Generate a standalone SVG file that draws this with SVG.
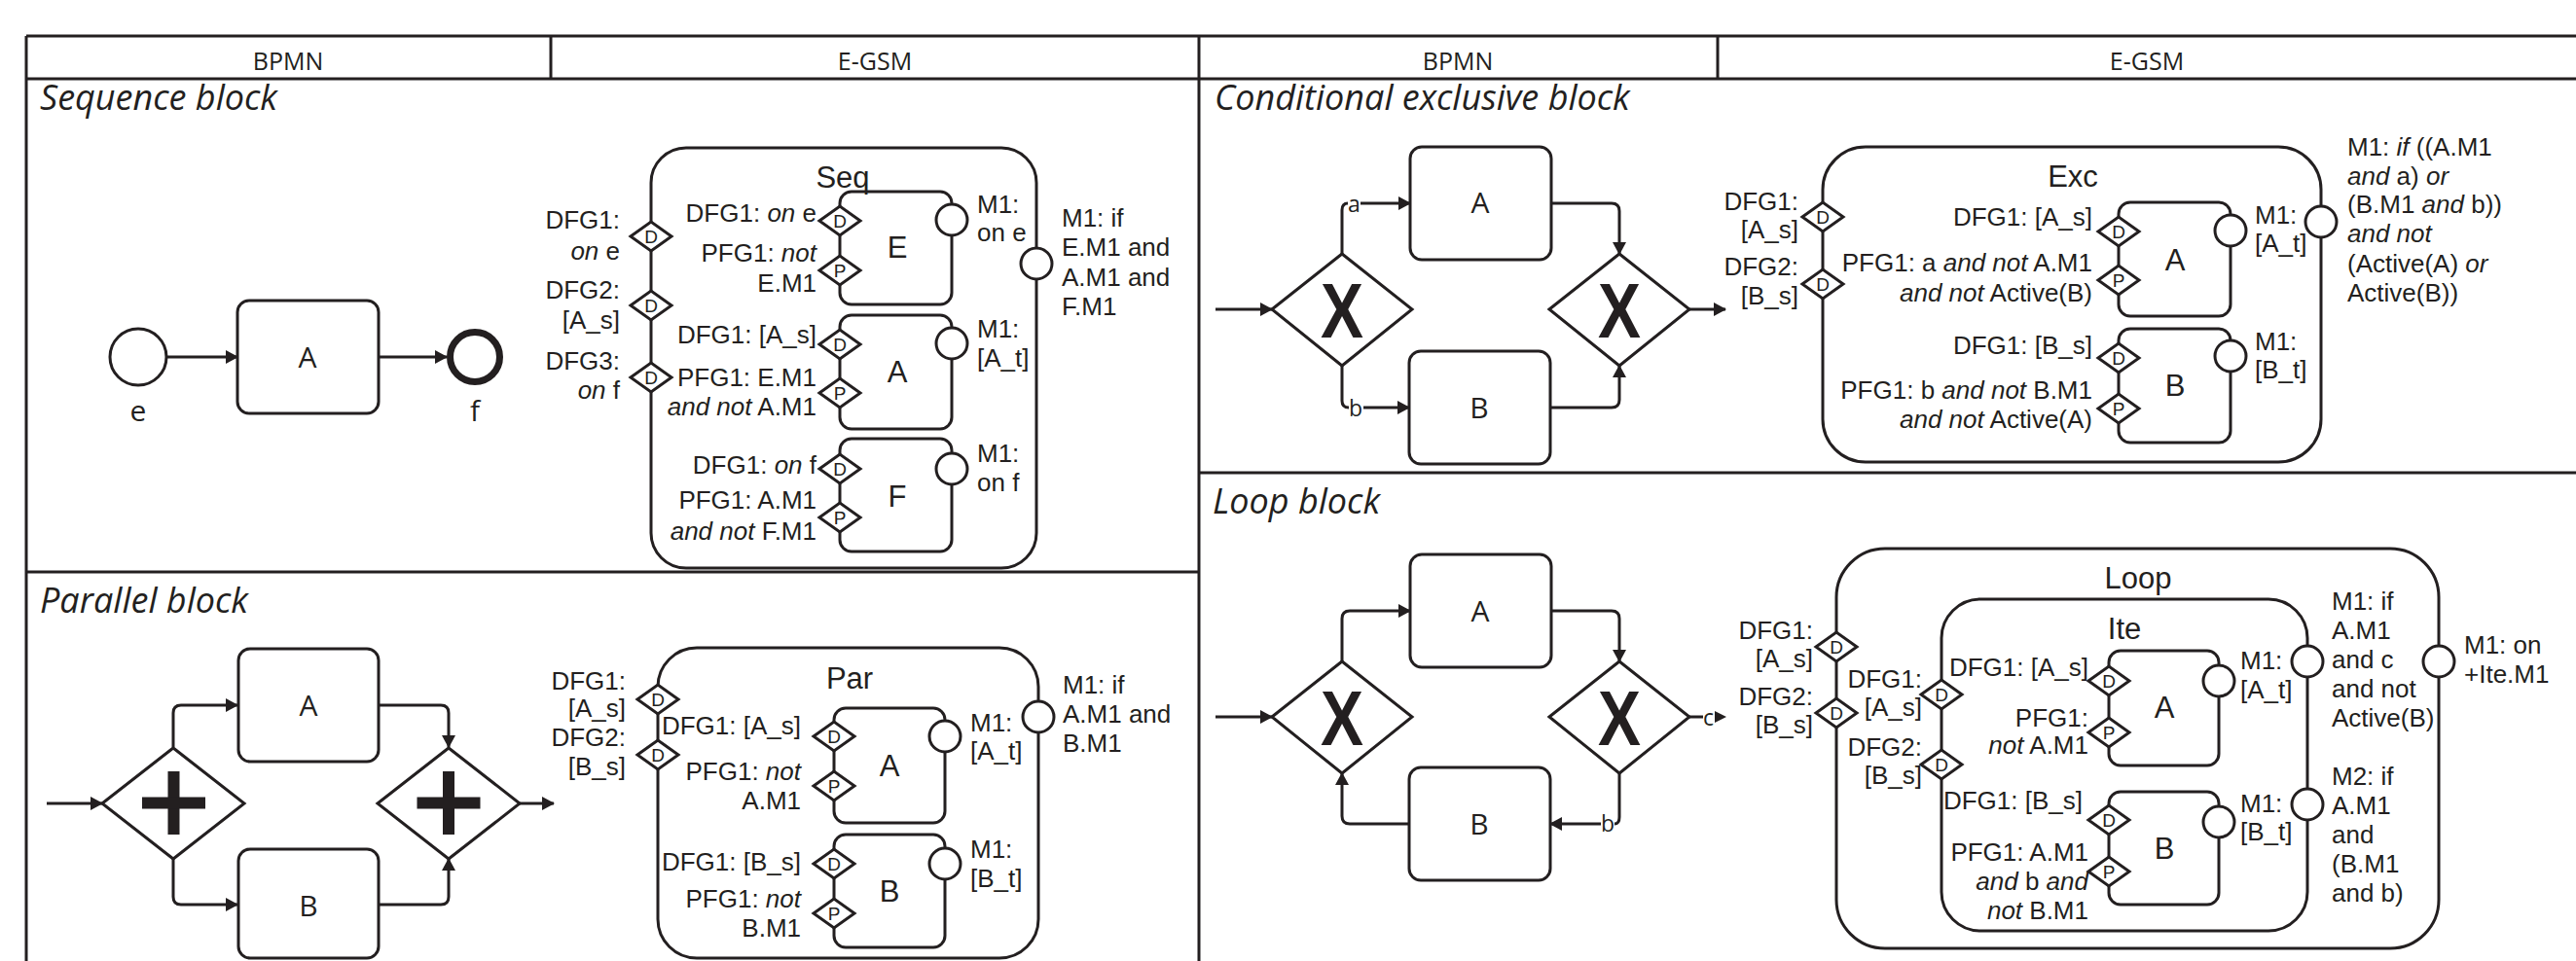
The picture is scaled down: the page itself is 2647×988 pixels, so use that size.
<svg xmlns="http://www.w3.org/2000/svg" xmlns:xlink="http://www.w3.org/1999/xlink" width="2647" height="988" viewBox="0 0 2647 988">
<style>
.k{stroke:#231f20;stroke-width:3;fill:none}
.w{stroke:#231f20;stroke-width:3;fill:#fff}
.g{stroke:#231f20;stroke-width:3;fill:none}
text{fill:#231f20}
.l{font-family:"Liberation Sans",Arial,sans-serif;font-size:26px}
.e{text-anchor:end}
.i{font-style:italic}
.big{font-family:"Liberation Sans",Arial,sans-serif;font-size:31px;text-anchor:middle}
.bp{font-family:"Open Sans",sans-serif;font-size:30px;text-anchor:middle}
.lb{font-family:"Open Sans",sans-serif;font-size:23px}
.hd{font-family:"Open Sans",sans-serif;font-size:25px;text-anchor:middle}
.tt{font-family:"Open Sans",sans-serif;font-size:36px;font-style:italic}
.x{font-family:"Liberation Sans",Arial,sans-serif;font-weight:bold;font-size:80px}
.dp{font-family:"Liberation Sans",Arial,sans-serif;font-size:19px;text-anchor:middle}
.cn{stroke:#231f20;stroke-width:3;fill:none;marker-end:url(#ah)}
.pl{fill:#231f20}
</style>
<defs>
<marker id="ah" viewBox="0 0 13 14" refX="12" refY="7" markerWidth="13" markerHeight="14" markerUnits="userSpaceOnUse" orient="auto"><path d="M0,0 L13,7 L0,14 z" fill="#231f20"/></marker>
<g id="dD"><polygon points="-21,0 0,-15 21,0 0,15" fill="#fff" stroke="#231f20" stroke-width="3"/><text class="dp" y="7">D</text></g>
<g id="dP"><polygon points="-21,0 0,-15 21,0 0,15" fill="#fff" stroke="#231f20" stroke-width="3"/><text class="dp" y="7">P</text></g>
<circle id="mc" r="16" fill="#fff" stroke="#231f20" stroke-width="3"/>
</defs>
<rect width="2647" height="988" fill="#fff"/>

<g id="table">
<path class="k" d="M27,37 H2647 M27,81 H2647 M27,37 V988 M1232,37 V988 M566,37 V81 M1765,37 V81 M27,588 H1232 M1232,486 H2647"/>
<text class="hd" x="296" y="72">BPMN</text>
<text class="hd" x="899" y="72">E-GSM</text>
<text class="hd" x="1498" y="72">BPMN</text>
<text class="hd" x="2206" y="72">E-GSM</text>
<text class="tt" x="41" y="113">Sequence block</text>
<text class="tt" x="41" y="630">Parallel block</text>
<text class="tt" x="1248" y="113">Conditional exclusive block</text>
<text class="tt" x="1246" y="528">Loop block</text>
</g>

<g id="connectors">
<path class="cn" d="M171,367 H244"/>
<path class="cn" d="M389,367 H459"/>
<path class="cn" d="M48,826 H105"/>
<path class="cn" d="M178,768 V733 Q178,725 186,725 H244"/>
<path class="cn" d="M178,883 V922 Q178,930 186,930 H244"/>
<path class="cn" d="M389,725 H453 Q461,725 461,733 V768"/>
<path class="cn" d="M389,930 H453 Q461,930 461,922 V883"/>
<path class="cn" d="M534,826 H569"/>
<path class="cn" d="M1249,318 H1307"/>
<path class="k" d="M1379,261 V216 Q1379,209 1385,209"/>
<text class="lb" x="1385" y="218">a</text>
<path class="cn" d="M1398,209 H1449"/>
<path class="k" d="M1379,376 V412 Q1379,419 1386,419"/>
<text class="lb" x="1386" y="428">b</text>
<path class="cn" d="M1401,419 H1448"/>
<path class="cn" d="M1594,209 H1656 Q1664,209 1664,217 V261"/>
<path class="cn" d="M1593,419 H1656 Q1664,419 1664,411 V376"/>
<path class="cn" d="M1736,318 H1773"/>
<path class="cn" d="M1249,737 H1307"/>
<path class="cn" d="M1379,680 V636 Q1379,628 1387,628 H1449"/>
<path class="cn" d="M1594,628 H1656 Q1664,628 1664,636 V680"/>
<path class="k" d="M1736,737 H1750"/>
<text class="lb" x="1750" y="746">c</text>
<polygon class="pl" points="1762,731 1774,737 1762,743"/>
<path class="k" d="M1664,795 V840 Q1664,847 1659,847"/>
<text class="lb" x="1645" y="855">b</text>
<path class="cn" d="M1645,847 H1593"/>
<path class="cn" d="M1448,847 H1387 Q1379,847 1379,839 V795"/>
</g>

<g id="seq-start"><circle class="w" cx="142" cy="367" r="29"/><text class="bp" x="142" y="433">e</text></g>
<g id="seq-A"><rect class="w" x="244" y="309" width="145" height="116" rx="12"/><text class="bp" x="316" y="378">A</text></g>
<g id="seq-end"><circle cx="488" cy="367" r="25.5" fill="#fff" stroke="#231f20" stroke-width="7"/><text class="bp" x="488" y="433">f</text></g>

<g id="par-split"><polygon class="w" points="105,826 178,769 251,826 178,883"/><rect class="pl" x="172.5" y="793" width="12" height="65"/><rect class="pl" x="146" y="819.5" width="65" height="12"/></g>
<g id="par-A"><rect class="w" x="245" y="667" width="144" height="116" rx="12"/><text class="bp" x="317" y="736">A</text></g>
<g id="par-B"><rect class="w" x="245" y="873" width="144" height="112" rx="12"/><text class="bp" x="317" y="942">B</text></g>
<g id="par-join"><polygon class="w" points="388,826 461,769 534,826 461,883"/><rect class="pl" x="455" y="793" width="12" height="65"/><rect class="pl" x="428.5" y="819.5" width="65" height="12"/></g>

<g id="exc-split"><polygon class="w" points="1307,318 1379,261 1451,318 1379,376"/><text class="x" x="1357" y="347" textLength="44" lengthAdjust="spacingAndGlyphs">X</text></g>
<g id="exc-A"><rect class="w" x="1449" y="151" width="145" height="116" rx="12"/><text class="bp" x="1521" y="219">A</text></g>
<g id="exc-B"><rect class="w" x="1448" y="361" width="145" height="116" rx="12"/><text class="bp" x="1520" y="430">B</text></g>
<g id="exc-join"><polygon class="w" points="1592,318 1664,261 1736,318 1664,376"/><text class="x" x="1642" y="347" textLength="44" lengthAdjust="spacingAndGlyphs">X</text></g>

<g id="loop-split"><polygon class="w" points="1307,737 1379,680 1451,737 1379,795"/><text class="x" x="1357" y="766" textLength="44" lengthAdjust="spacingAndGlyphs">X</text></g>
<g id="loop-A"><rect class="w" x="1449" y="570" width="145" height="116" rx="12"/><text class="bp" x="1521" y="639">A</text></g>
<g id="loop-B"><rect class="w" x="1448" y="789" width="145" height="116" rx="12"/><text class="bp" x="1520" y="858">B</text></g>
<g id="loop-join"><polygon class="w" points="1592,737 1664,680 1736,737 1664,795"/><text class="x" x="1642" y="766" textLength="44" lengthAdjust="spacingAndGlyphs">X</text></g>

<g id="seq-egsm">
<rect class="w" x="669" y="152" width="396" height="432" rx="36"/>
<g id="seq-E"><rect class="g" x="863" y="197" width="115" height="116" rx="12"/><text class="big" x="922" y="265">E</text>
<use xlink:href="#dD" x="863" y="227"/><use xlink:href="#dP" x="863" y="278"/><use xlink:href="#mc" x="978" y="226"/></g>
<g id="seq-EA"><rect class="g" x="863" y="324" width="115" height="117" rx="12"/><text class="big" x="922" y="393">A</text>
<use xlink:href="#dD" x="863" y="354"/><use xlink:href="#dP" x="863" y="404"/><use xlink:href="#mc" x="978" y="353"/></g>
<g id="seq-F"><rect class="g" x="863" y="451" width="115" height="116" rx="12"/><text class="big" x="922" y="521">F</text>
<use xlink:href="#dD" x="863" y="482"/><use xlink:href="#dP" x="863" y="532"/><use xlink:href="#mc" x="978" y="482"/></g>
<text class="big" x="866" y="193">Seq</text>
<use xlink:href="#dD" x="669" y="243"/><use xlink:href="#dD" x="669" y="314"/><use xlink:href="#dD" x="669" y="388"/>
<use xlink:href="#mc" x="1065" y="271"/>
<text class="l e" x="637" y="235">DFG1:</text>
<text class="l e" x="637" y="267"><tspan class="i">on</tspan> e</text>
<text class="l e" x="637" y="307">DFG2:</text>
<text class="l e" x="637" y="338">[A_s]</text>
<text class="l e" x="637" y="380">DFG3:</text>
<text class="l e" x="637" y="410"><tspan class="i">on</tspan> f</text>
<text class="l e" x="839" y="228">DFG1: <tspan class="i">on</tspan> e</text>
<text class="l e" x="839" y="269">PFG1: <tspan class="i">not</tspan></text>
<text class="l e" x="839" y="300">E.M1</text>
<text class="l e" x="839" y="353">DFG1: [A_s]</text>
<text class="l e" x="839" y="397">PFG1: E.M1</text>
<text class="l e" x="839" y="427"><tspan class="i">and not</tspan> A.M1</text>
<text class="l e" x="839" y="487">DFG1: <tspan class="i">on</tspan> f</text>
<text class="l e" x="839" y="523">PFG1: A.M1</text>
<text class="l e" x="839" y="555"><tspan class="i">and not</tspan> F.M1</text>
<text class="l" x="1004" y="219">M1:</text>
<text class="l" x="1004" y="248">on e</text>
<text class="l" x="1004" y="347">M1:</text>
<text class="l" x="1004" y="377">[A_t]</text>
<text class="l" x="1004" y="475">M1:</text>
<text class="l" x="1004" y="505">on f</text>
<text class="l" x="1091" y="233">M1: if</text>
<text class="l" x="1091" y="263">E.M1 and</text>
<text class="l" x="1091" y="294">A.M1 and</text>
<text class="l" x="1091" y="324">F.M1</text>
</g>

<g id="par-egsm">
<rect class="w" x="676" y="666" width="391" height="319" rx="40"/>
<text class="big" x="873" y="708">Par</text>
<g id="par-eA"><rect class="g" x="857" y="728" width="114" height="118" rx="12"/><text class="big" x="914" y="798">A</text>
<use xlink:href="#dD" x="857" y="757"/><use xlink:href="#dP" x="857" y="808"/><use xlink:href="#mc" x="971" y="757"/></g>
<g id="par-eB"><rect class="g" x="857" y="858" width="114" height="116" rx="12"/><text class="big" x="914" y="927">B</text>
<use xlink:href="#dD" x="857" y="888"/><use xlink:href="#dP" x="857" y="939"/><use xlink:href="#mc" x="971" y="888"/></g>
<use xlink:href="#dD" x="676" y="719"/><use xlink:href="#dD" x="676" y="776"/>
<use xlink:href="#mc" x="1067" y="737"/>
<text class="l e" x="643" y="709">DFG1:</text>
<text class="l e" x="643" y="737">[A_s]</text>
<text class="l e" x="643" y="767">DFG2:</text>
<text class="l e" x="643" y="797">[B_s]</text>
<text class="l e" x="823" y="755">DFG1: [A_s]</text>
<text class="l e" x="823" y="802">PFG1: <tspan class="i">not</tspan></text>
<text class="l e" x="823" y="832">A.M1</text>
<text class="l e" x="823" y="895">DFG1: [B_s]</text>
<text class="l e" x="823" y="933">PFG1: <tspan class="i">not</tspan></text>
<text class="l e" x="823" y="963">B.M1</text>
<text class="l" x="997" y="752">M1:</text>
<text class="l" x="997" y="781">[A_t]</text>
<text class="l" x="997" y="882">M1:</text>
<text class="l" x="997" y="912">[B_t]</text>
<text class="l" x="1092" y="713">M1: if</text>
<text class="l" x="1092" y="743">A.M1 and</text>
<text class="l" x="1092" y="773">B.M1</text>
</g>

<g id="exc-egsm">
<rect class="w" x="1873" y="151" width="512" height="324" rx="44"/>
<text class="big" x="2130" y="192">Exc</text>
<g id="exc-eA"><rect class="g" x="2177" y="208" width="115" height="117" rx="12"/><text class="big" x="2235" y="278">A</text>
<use xlink:href="#dD" x="2177" y="238"/><use xlink:href="#dP" x="2177" y="288"/><use xlink:href="#mc" x="2292" y="237"/></g>
<g id="exc-eB"><rect class="g" x="2177" y="338" width="115" height="117" rx="12"/><text class="big" x="2235" y="407">B</text>
<use xlink:href="#dD" x="2177" y="368"/><use xlink:href="#dP" x="2177" y="420"/><use xlink:href="#mc" x="2292" y="366"/></g>
<use xlink:href="#dD" x="1873" y="223"/><use xlink:href="#dD" x="1873" y="292"/>
<use xlink:href="#mc" x="2385" y="228"/>
<text class="l e" x="1848" y="216">DFG1:</text>
<text class="l e" x="1848" y="245">[A_s]</text>
<text class="l e" x="1848" y="283">DFG2:</text>
<text class="l e" x="1848" y="313">[B_s]</text>
<text class="l e" x="2150" y="232">DFG1: [A_s]</text>
<text class="l e" x="2150" y="279">PFG1: a <tspan class="i">and not</tspan> A.M1</text>
<text class="l e" x="2150" y="310"><tspan class="i">and not</tspan> Active(B)</text>
<text class="l e" x="2150" y="364">DFG1: [B_s]</text>
<text class="l e" x="2150" y="410">PFG1: b <tspan class="i">and not</tspan> B.M1</text>
<text class="l e" x="2150" y="440"><tspan class="i">and not</tspan> Active(A)</text>
<text class="l" x="2317" y="230">M1:</text>
<text class="l" x="2317" y="259">[A_t]</text>
<text class="l" x="2317" y="360">M1:</text>
<text class="l" x="2317" y="389">[B_t]</text>
<text class="l" x="2412" y="160">M1: <tspan class="i">if</tspan> ((A.M1</text>
<text class="l" x="2412" y="190"><tspan class="i">and</tspan> a) <tspan class="i">or</tspan></text>
<text class="l" x="2412" y="219">(B.M1 <tspan class="i">and</tspan> b))</text>
<text class="l" x="2412" y="249"><tspan class="i">and not</tspan></text>
<text class="l" x="2412" y="280">(Active(A) <tspan class="i">or</tspan></text>
<text class="l" x="2412" y="310">Active(B))</text>
</g>

<g id="loop-egsm">
<rect class="w" x="1887" y="564" width="619" height="411" rx="50"/>
<text class="big" x="2197" y="605">Loop</text>
<g id="ite-egsm">
<rect class="g" x="1995" y="616" width="376" height="341" rx="40"/>
<text class="big" x="2183" y="657">Ite</text>
<g id="loop-eA"><rect class="g" x="2167" y="669" width="113" height="118" rx="12"/><text class="big" x="2224" y="738">A</text>
<use xlink:href="#dD" x="2167" y="700"/><use xlink:href="#dP" x="2167" y="753"/><use xlink:href="#mc" x="2280" y="700"/></g>
<g id="loop-eB"><rect class="g" x="2167" y="814" width="113" height="116" rx="12"/><text class="big" x="2224" y="883">B</text>
<use xlink:href="#dD" x="2167" y="843"/><use xlink:href="#dP" x="2167" y="896"/><use xlink:href="#mc" x="2280" y="845"/></g>
<use xlink:href="#dD" x="1995" y="714"/><use xlink:href="#dD" x="1995" y="786"/>
<use xlink:href="#mc" x="2371" y="680"/><use xlink:href="#mc" x="2371" y="827"/>
</g>
<use xlink:href="#dD" x="1887" y="665"/><use xlink:href="#dD" x="1887" y="733"/>
<use xlink:href="#mc" x="2506" y="680"/>
<text class="l e" x="1863" y="657">DFG1:</text>
<text class="l e" x="1863" y="686">[A_s]</text>
<text class="l e" x="1863" y="725">DFG2:</text>
<text class="l e" x="1863" y="754">[B_s]</text>
<text class="l e" x="1975" y="707">DFG1:</text>
<text class="l e" x="1975" y="736">[A_s]</text>
<text class="l e" x="1975" y="777">DFG2:</text>
<text class="l e" x="1975" y="806">[B_s]</text>
<text class="l e" x="2146" y="695">DFG1: [A_s]</text>
<text class="l e" x="2146" y="747">PFG1:</text>
<text class="l e" x="2146" y="775"><tspan class="i">not</tspan> A.M1</text>
<text class="l e" x="2140" y="832">DFG1: [B_s]</text>
<text class="l e" x="2146" y="885">PFG1: A.M1</text>
<text class="l e" x="2146" y="915"><tspan class="i">and</tspan> b <tspan class="i">and</tspan></text>
<text class="l e" x="2146" y="945"><tspan class="i">not</tspan> B.M1</text>
<text class="l" x="2302" y="688">M1:</text>
<text class="l" x="2302" y="718">[A_t]</text>
<text class="l" x="2302" y="835">M1:</text>
<text class="l" x="2302" y="864">[B_t]</text>
<text class="l" x="2396" y="627">M1: if</text>
<text class="l" x="2396" y="657">A.M1</text>
<text class="l" x="2396" y="687">and c</text>
<text class="l" x="2396" y="717">and not</text>
<text class="l" x="2396" y="747">Active(B)</text>
<text class="l" x="2396" y="807">M2: if</text>
<text class="l" x="2396" y="837">A.M1</text>
<text class="l" x="2396" y="867">and</text>
<text class="l" x="2396" y="897">(B.M1</text>
<text class="l" x="2396" y="927">and b)</text>
<text class="l" x="2532" y="672">M1: on</text>
<text class="l" x="2532" y="702">+Ite.M1</text>
</g>
</svg>
